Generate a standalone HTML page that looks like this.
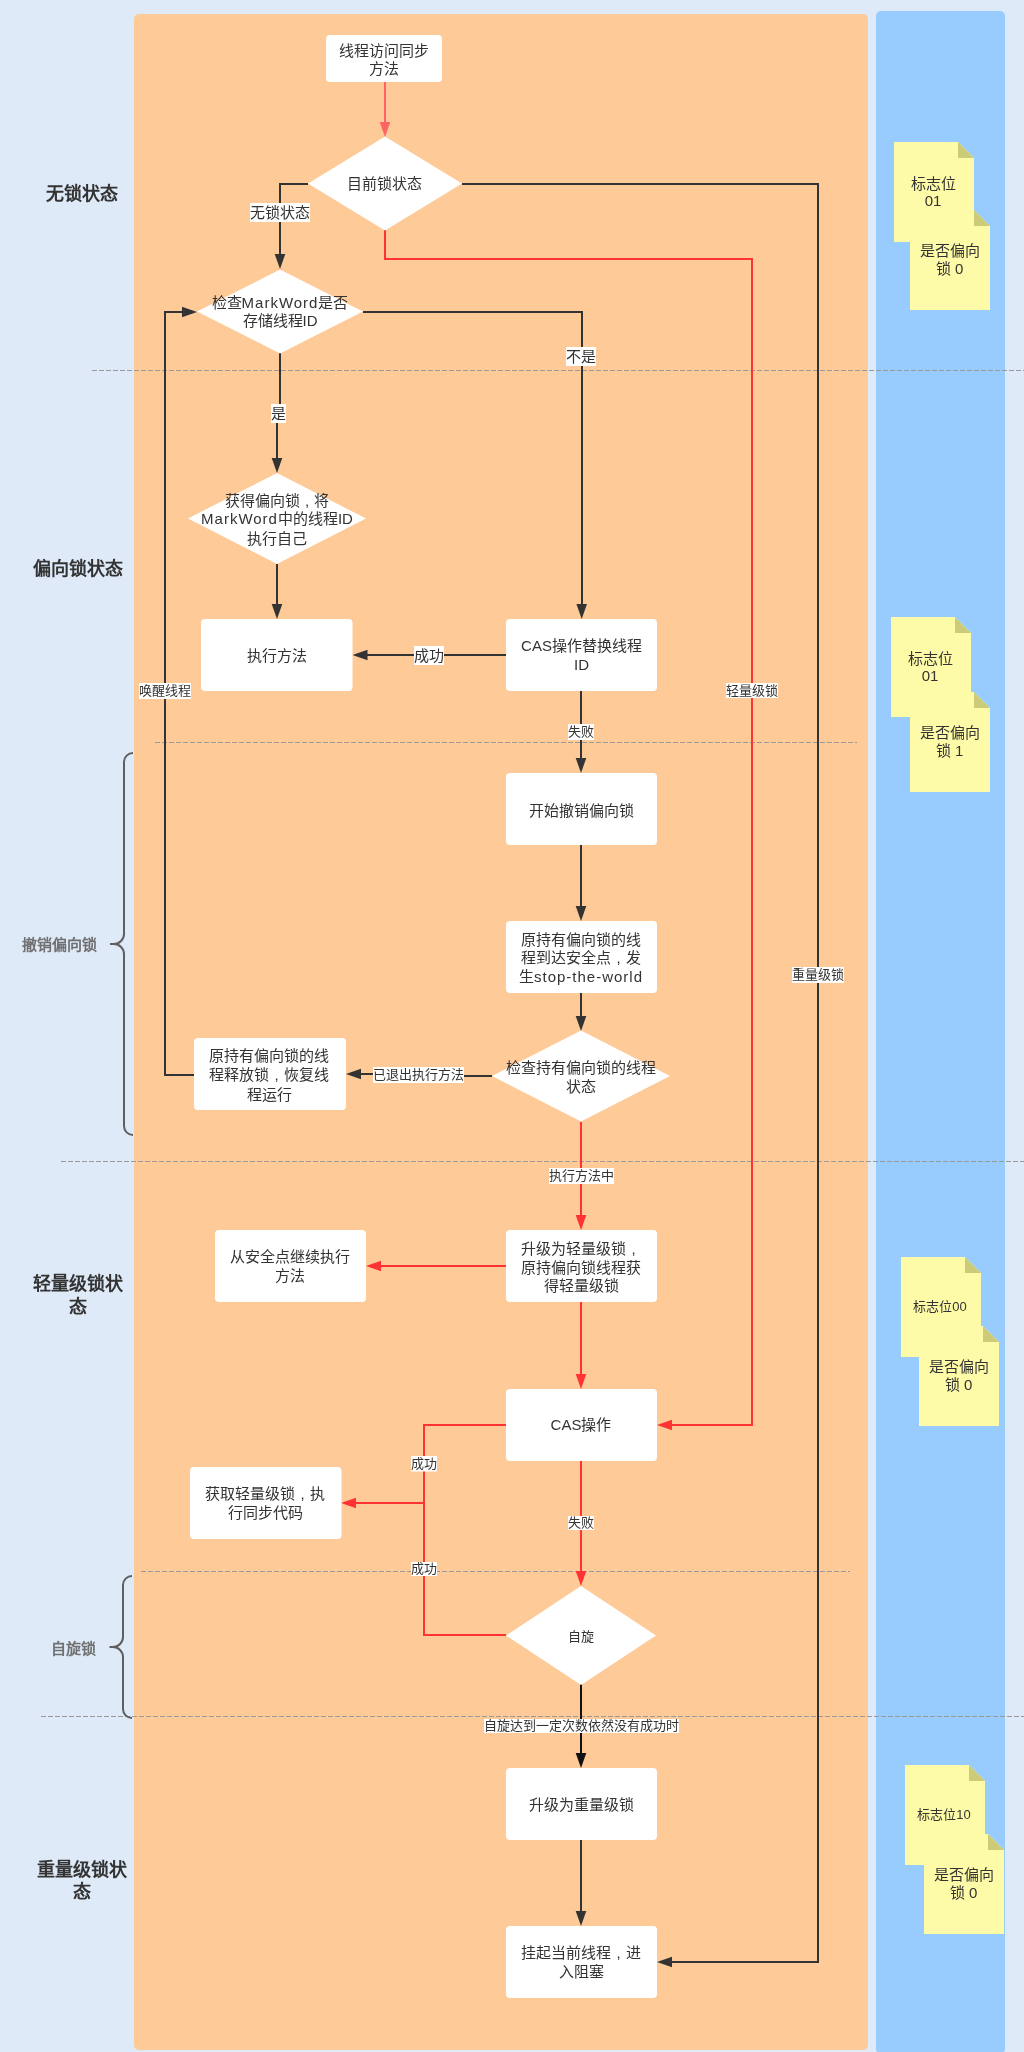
<!DOCTYPE html>
<html lang="zh-CN"><head><meta charset="utf-8"><title>lock</title>
<style>html,body{margin:0;padding:0;background:#dfeaf8;width:1024px;height:2052px;overflow:hidden}
svg{display:block;will-change:transform;font-family:"Liberation Sans",sans-serif}</style></head>
<body><svg width="1024" height="2052" viewBox="0 0 1024 2052">
<rect x="134" y="14" width="734" height="2036" rx="5" fill="#fdca98"/>
<rect x="876" y="11" width="129" height="2043" rx="5" fill="#99ccfe"/>
<line x1="92" y1="370.5" x2="1024" y2="370.5" stroke="#999999" stroke-width="1" stroke-dasharray="5,2"/>
<line x1="155" y1="742.5" x2="857" y2="742.5" stroke="#999999" stroke-width="1" stroke-dasharray="5,2"/>
<line x1="61" y1="1161.5" x2="1024" y2="1161.5" stroke="#999999" stroke-width="1" stroke-dasharray="5,2"/>
<line x1="141" y1="1571.5" x2="850" y2="1571.5" stroke="#999999" stroke-width="1" stroke-dasharray="5,2"/>
<line x1="41" y1="1716.5" x2="1024" y2="1716.5" stroke="#999999" stroke-width="1" stroke-dasharray="5,2"/>
<path d="M133,753 A9,9 0 0 0 124,762 L124,934 A10,10 0 0 1 114,944 L110,944 M110,944 L114,944 A10,10 0 0 1 124,954 L124,1126 A9,9 0 0 0 133,1135" fill="none" stroke="#5f5f5f" stroke-width="2"/>
<path d="M132,1576 A9,9 0 0 0 123,1585 L123,1637 A10,10 0 0 1 113,1647 L109.5,1647 M109.5,1647 L113,1647 A10,10 0 0 1 123,1657 L123,1709 A9,9 0 0 0 132,1718" fill="none" stroke="#5f5f5f" stroke-width="2"/>
<text x="81.5" y="199.9" font-size="18" fill="#333333" font-weight="bold" text-anchor="middle">无锁状态</text>
<text x="77.5" y="574.9" font-size="18" fill="#333333" font-weight="bold" text-anchor="middle">偏向锁状态</text>
<text x="77.6" y="1290.3" font-size="18" fill="#333333" font-weight="bold" text-anchor="middle">轻量级锁状</text>
<text x="77.6" y="1313.2" font-size="18" fill="#333333" font-weight="bold" text-anchor="middle">态</text>
<text x="81.7" y="1875.6" font-size="18" fill="#333333" font-weight="bold" text-anchor="middle">重量级锁状</text>
<text x="81.7" y="1898.3" font-size="18" fill="#333333" font-weight="bold" text-anchor="middle">态</text>
<text x="59" y="949.7" font-size="15" fill="#707070" font-weight="bold" text-anchor="middle">撤销偏向锁</text>
<text x="73" y="1653.7" font-size="15" fill="#707070" font-weight="bold" text-anchor="middle">自旋锁</text>
<polyline points="385,82 385,124" fill="none" stroke="#ff6464" stroke-width="2" stroke-linejoin="miter"/>
<polygon points="385,137 379.7,122 390.3,122" fill="#ff6464"/>
<polyline points="308,184 280,184 280,256" fill="none" stroke="#333333" stroke-width="2" stroke-linejoin="miter"/>
<polygon points="280,269 274.7,254 285.3,254" fill="#333333"/>
<polyline points="462,184 818,184 818,1962 670,1962" fill="none" stroke="#333333" stroke-width="2" stroke-linejoin="miter"/>
<polygon points="657,1962 672,1956.7 672,1967.3" fill="#333333"/>
<polyline points="385,229 385,259 752,259 752,1425 670,1425" fill="none" stroke="#ff3333" stroke-width="2" stroke-linejoin="miter"/>
<polygon points="657,1425 672,1419.7 672,1430.3" fill="#ff3333"/>
<polyline points="363,312 582,312 582,606" fill="none" stroke="#333333" stroke-width="2" stroke-linejoin="miter"/>
<polygon points="581.7,619 576.4000000000001,604 587.0,604" fill="#333333"/>
<polyline points="280,353 280,413 277,413 277,460" fill="none" stroke="#333333" stroke-width="2" stroke-linejoin="miter"/>
<polygon points="277,473 271.7,458 282.3,458" fill="#333333"/>
<polyline points="277,564 277,606" fill="none" stroke="#333333" stroke-width="2" stroke-linejoin="miter"/>
<polygon points="277,619 271.7,604 282.3,604" fill="#333333"/>
<polyline points="506,655 366,655" fill="none" stroke="#333333" stroke-width="2" stroke-linejoin="miter"/>
<polygon points="352.5,655 367.5,649.7 367.5,660.3" fill="#333333"/>
<polyline points="581,691 581,760" fill="none" stroke="#333333" stroke-width="2" stroke-linejoin="miter"/>
<polygon points="581,773 575.7,758 586.3,758" fill="#333333"/>
<polyline points="581,845 581,908" fill="none" stroke="#333333" stroke-width="2" stroke-linejoin="miter"/>
<polygon points="581,921 575.7,906 586.3,906" fill="#333333"/>
<polyline points="581,993 581,1018" fill="none" stroke="#333333" stroke-width="2" stroke-linejoin="miter"/>
<polygon points="581,1031 575.7,1016 586.3,1016" fill="#333333"/>
<polyline points="492,1076 420,1076 420,1074 359,1074" fill="none" stroke="#333333" stroke-width="2" stroke-linejoin="miter"/>
<polygon points="346,1074 361,1068.7 361,1079.3" fill="#333333"/>
<polyline points="194,1075 165,1075 165,312 184,312" fill="none" stroke="#333333" stroke-width="2" stroke-linejoin="miter"/>
<polygon points="197,312 182,306.7 182,317.3" fill="#333333"/>
<polyline points="581,1122 581,1217" fill="none" stroke="#ff3333" stroke-width="2" stroke-linejoin="miter"/>
<polygon points="581,1230 575.7,1215 586.3,1215" fill="#ff3333"/>
<polyline points="506,1266 379,1266" fill="none" stroke="#ff3333" stroke-width="2" stroke-linejoin="miter"/>
<polygon points="366,1266 381,1260.7 381,1271.3" fill="#ff3333"/>
<polyline points="581,1302 581,1376" fill="none" stroke="#ff3333" stroke-width="2" stroke-linejoin="miter"/>
<polygon points="581,1389 575.7,1374 586.3,1374" fill="#ff3333"/>
<polyline points="506,1425 424,1425 424,1635 506,1635" fill="none" stroke="#ff3333" stroke-width="2" stroke-linejoin="miter"/>
<polyline points="424,1503 354,1503" fill="none" stroke="#ff3333" stroke-width="2" stroke-linejoin="miter"/>
<polygon points="341,1503 356,1497.7 356,1508.3" fill="#ff3333"/>
<polyline points="581,1461 581,1573" fill="none" stroke="#ff3333" stroke-width="2" stroke-linejoin="miter"/>
<polygon points="581,1586 575.7,1571 586.3,1571" fill="#ff3333"/>
<polyline points="581,1684 581,1755" fill="none" stroke="#111" stroke-width="2" stroke-linejoin="miter"/>
<polygon points="581,1768 575.7,1753 586.3,1753" fill="#111"/>
<polyline points="581,1840 581,1913" fill="none" stroke="#333333" stroke-width="2" stroke-linejoin="miter"/>
<polygon points="581,1926 575.7,1911 586.3,1911" fill="#333333"/>
<rect x="326" y="35" width="116" height="47" rx="4" fill="#fff"/>
<polygon points="385,136.5 462,183.5 385,230.5 308,183.5" fill="#fff"/>
<polygon points="280,269.5 363,311.5 280,353.5 197,311.5" fill="#fff"/>
<polygon points="277,473.0 366,518.5 277,564.0 188,518.5" fill="#fff"/>
<rect x="201" y="619" width="151.5" height="72" rx="4" fill="#fff"/>
<rect x="506" y="619" width="151" height="72" rx="4" fill="#fff"/>
<rect x="506" y="773" width="151" height="72" rx="4" fill="#fff"/>
<rect x="506" y="921" width="151" height="72" rx="4" fill="#fff"/>
<polygon points="581,1030.5 670,1076 581,1121.5 492,1076" fill="#fff"/>
<rect x="194" y="1038" width="152" height="72" rx="4" fill="#fff"/>
<rect x="215" y="1230" width="151" height="72" rx="4" fill="#fff"/>
<rect x="506" y="1230" width="151" height="72" rx="4" fill="#fff"/>
<rect x="506" y="1389" width="151" height="72" rx="4" fill="#fff"/>
<rect x="190" y="1467" width="151.5" height="72" rx="4" fill="#fff"/>
<polygon points="581,1586.0 656,1635.5 581,1685.0 506,1635.5" fill="#fff"/>
<rect x="506" y="1768" width="151" height="72" rx="4" fill="#fff"/>
<rect x="506" y="1926" width="151" height="72" rx="4" fill="#fff"/>
<text x="384" y="55.5" font-size="15" fill="#333333" font-weight="normal" text-anchor="middle">线程访问同步</text>
<text x="384" y="74.0" font-size="15" fill="#333333" font-weight="normal" text-anchor="middle">方法</text>
<text x="384" y="189.0" font-size="15" fill="#333333" font-weight="normal" text-anchor="middle">目前锁状态</text>
<text x="280" y="308.2" font-size="15" fill="#333333" font-weight="normal" text-anchor="middle">检查<tspan letter-spacing="1.0">MarkWord</tspan>是否</text>
<text x="280" y="326.2" font-size="15" fill="#333333" font-weight="normal" text-anchor="middle">存储线程ID</text>
<text x="277" y="506.2" font-size="15" fill="#333333" font-weight="normal" text-anchor="middle">获得偏向锁<tspan dx="5.4">,</tspan><tspan dx="5.4">将</tspan></text>
<text x="277" y="524.2" font-size="15" fill="#333333" font-weight="normal" text-anchor="middle"><tspan letter-spacing="1.0">MarkWord</tspan>中的线程ID</text>
<text x="277" y="543.6" font-size="15" fill="#333333" font-weight="normal" text-anchor="middle">执行自己</text>
<text x="277" y="660.9" font-size="15" fill="#333333" font-weight="normal" text-anchor="middle">执行方法</text>
<text x="581.5" y="651.2" font-size="15" fill="#333333" font-weight="normal" text-anchor="middle">CAS操作替换线程</text>
<text x="581.5" y="670.2" font-size="15" fill="#333333" font-weight="normal" text-anchor="middle">ID</text>
<text x="581" y="815.7" font-size="15" fill="#333333" font-weight="normal" text-anchor="middle">开始撤销偏向锁</text>
<text x="581" y="944.7" font-size="15" fill="#333333" font-weight="normal" text-anchor="middle">原持有偏向锁的线</text>
<text x="581" y="963.2" font-size="15" fill="#333333" font-weight="normal" text-anchor="middle">程到达安全点<tspan dx="5.4">,</tspan><tspan dx="5.4">发</tspan></text>
<text x="581" y="981.8" font-size="15" fill="#333333" font-weight="normal" text-anchor="middle">生<tspan letter-spacing="1.0">stop-the-world</tspan></text>
<text x="581" y="1073.2" font-size="15" fill="#333333" font-weight="normal" text-anchor="middle">检查持有偏向锁的线程</text>
<text x="581" y="1092.2" font-size="15" fill="#333333" font-weight="normal" text-anchor="middle">状态</text>
<text x="269" y="1060.8" font-size="15" fill="#333333" font-weight="normal" text-anchor="middle">原持有偏向锁的线</text>
<text x="269" y="1079.9" font-size="15" fill="#333333" font-weight="normal" text-anchor="middle">程释放锁<tspan dx="5.4">,</tspan><tspan dx="5.4">恢</tspan>复线</text>
<text x="269" y="1099.5" font-size="15" fill="#333333" font-weight="normal" text-anchor="middle">程运行</text>
<text x="290" y="1262.2" font-size="15" fill="#333333" font-weight="normal" text-anchor="middle">从安全点继续执行</text>
<text x="290" y="1281.2" font-size="15" fill="#333333" font-weight="normal" text-anchor="middle">方法</text>
<text x="581" y="1253.5" font-size="15" fill="#333333" font-weight="normal" text-anchor="middle">升级为轻量级锁<tspan dx="5.4">,</tspan><tspan dx="5.4">&#8203;</tspan></text>
<text x="581" y="1272.9" font-size="15" fill="#333333" font-weight="normal" text-anchor="middle">原持偏向锁线程获</text>
<text x="581" y="1291.2" font-size="15" fill="#333333" font-weight="normal" text-anchor="middle">得轻量级锁</text>
<text x="581" y="1430.2" font-size="15" fill="#333333" font-weight="normal" text-anchor="middle">CAS操作</text>
<text x="265" y="1499.2" font-size="15" fill="#333333" font-weight="normal" text-anchor="middle">获取轻量级锁<tspan dx="5.4">,</tspan><tspan dx="5.4">执</tspan></text>
<text x="265" y="1518.2" font-size="15" fill="#333333" font-weight="normal" text-anchor="middle">行同步代码</text>
<text x="581" y="1641.1" font-size="13" fill="#333333" font-weight="normal" text-anchor="middle">自旋</text>
<text x="581" y="1810.2" font-size="15" fill="#333333" font-weight="normal" text-anchor="middle">升级为重量级锁</text>
<text x="581" y="1957.9" font-size="15" fill="#333333" font-weight="normal" text-anchor="middle">挂起当前线程<tspan dx="5.4">,</tspan><tspan dx="5.4">进</tspan></text>
<text x="581" y="1977.2" font-size="15" fill="#333333" font-weight="normal" text-anchor="middle">入阻塞</text>
<rect x="250" y="203" width="60" height="19" fill="#fff"/>
<text x="280.0" y="217.7" font-size="15" fill="#333333" font-weight="normal" text-anchor="middle">无锁状态</text>
<rect x="566" y="347" width="30" height="19" fill="#fff"/>
<text x="581.0" y="361.7" font-size="15" fill="#333333" font-weight="normal" text-anchor="middle">不是</text>
<rect x="271" y="404" width="15" height="19" fill="#fff"/>
<text x="278.5" y="418.7" font-size="15" fill="#333333" font-weight="normal" text-anchor="middle">是</text>
<rect x="414" y="646" width="30" height="19" fill="#fff"/>
<text x="429.0" y="660.7" font-size="15" fill="#333333" font-weight="normal" text-anchor="middle">成功</text>
<rect x="139" y="683" width="52" height="16" fill="#fff"/>
<text x="165.0" y="695.4" font-size="13" fill="#333333" font-weight="normal" text-anchor="middle">唤醒线程</text>
<rect x="568" y="724" width="26" height="16" fill="#fff"/>
<text x="581.0" y="736.4" font-size="13" fill="#333333" font-weight="normal" text-anchor="middle">失败</text>
<rect x="726" y="683" width="52" height="15" fill="#fff"/>
<text x="752.0" y="694.9" font-size="13" fill="#333333" font-weight="normal" text-anchor="middle">轻量级锁</text>
<rect x="792" y="967" width="52" height="16" fill="#fff"/>
<text x="818.0" y="979.4" font-size="13" fill="#333333" font-weight="normal" text-anchor="middle">重量级锁</text>
<rect x="373" y="1067" width="91" height="16" fill="#fff"/>
<text x="418.5" y="1079.4" font-size="13" fill="#333333" font-weight="normal" text-anchor="middle">已退出执行方法</text>
<rect x="549" y="1168" width="65" height="16" fill="#fff"/>
<text x="581.5" y="1180.4" font-size="13" fill="#333333" font-weight="normal" text-anchor="middle">执行方法中</text>
<rect x="411" y="1456" width="26" height="15.5" fill="#fff"/>
<text x="424.0" y="1468.2" font-size="13" fill="#333333" font-weight="normal" text-anchor="middle">成功</text>
<rect x="411" y="1562" width="26" height="14" fill="#fff"/>
<text x="424.0" y="1573.4" font-size="13" fill="#333333" font-weight="normal" text-anchor="middle">成功</text>
<rect x="568" y="1516" width="26" height="14" fill="#fff"/>
<text x="581.0" y="1527.4" font-size="13" fill="#333333" font-weight="normal" text-anchor="middle">失败</text>
<rect x="484" y="1719" width="195" height="14" fill="#fff"/>
<text x="581.5" y="1730.4" font-size="13" fill="#333333" font-weight="normal" text-anchor="middle">自旋达到一定次数依然没有成功时</text>
<polygon points="894,142 958,142 974,158 974,242 894,242" fill="#fefba8"/>
<polygon points="958,142 958,158 974,158" fill="#cccb78"/>
<polygon points="910,210 974,210 990,226 990,310 910,310" fill="#fefba8"/>
<polygon points="974,210 974,226 990,226" fill="#cccb78"/>
<text x="933" y="188.5" font-size="15" fill="#333333" font-weight="normal" text-anchor="middle">标志位</text>
<text x="933" y="205.9" font-size="15" fill="#333333" font-weight="normal" text-anchor="middle">01</text>
<text x="949.6" y="255.7" font-size="15" fill="#333333" font-weight="normal" text-anchor="middle">是否偏向</text>
<text x="949.6" y="273.8" font-size="15" fill="#333333" font-weight="normal" text-anchor="middle">锁 0</text>
<polygon points="891,617 955,617 971,633 971,717 891,717" fill="#fefba8"/>
<polygon points="955,617 955,633 971,633" fill="#cccb78"/>
<polygon points="910,692 974,692 990,708 990,792 910,792" fill="#fefba8"/>
<polygon points="974,692 974,708 990,708" fill="#cccb78"/>
<text x="930" y="663.5" font-size="15" fill="#333333" font-weight="normal" text-anchor="middle">标志位</text>
<text x="930" y="680.9" font-size="15" fill="#333333" font-weight="normal" text-anchor="middle">01</text>
<text x="949.6" y="737.7" font-size="15" fill="#333333" font-weight="normal" text-anchor="middle">是否偏向</text>
<text x="949.6" y="755.8" font-size="15" fill="#333333" font-weight="normal" text-anchor="middle">锁 1</text>
<polygon points="901,1257 965,1257 981,1273 981,1357 901,1357" fill="#fefba8"/>
<polygon points="965,1257 965,1273 981,1273" fill="#cccb78"/>
<polygon points="919,1326 983,1326 999,1342 999,1426 919,1426" fill="#fefba8"/>
<polygon points="983,1326 983,1342 999,1342" fill="#cccb78"/>
<text x="940" y="1311.4" font-size="13" fill="#333333" font-weight="normal" text-anchor="middle">标志位00</text>
<text x="958.6" y="1371.7" font-size="15" fill="#333333" font-weight="normal" text-anchor="middle">是否偏向</text>
<text x="958.6" y="1390.2" font-size="15" fill="#333333" font-weight="normal" text-anchor="middle">锁 0</text>
<polygon points="905,1765 969,1765 985,1781 985,1865 905,1865" fill="#fefba8"/>
<polygon points="969,1765 969,1781 985,1781" fill="#cccb78"/>
<polygon points="924,1834 988,1834 1004,1850 1004,1934 924,1934" fill="#fefba8"/>
<polygon points="988,1834 988,1850 1004,1850" fill="#cccb78"/>
<text x="944" y="1819.4" font-size="13" fill="#333333" font-weight="normal" text-anchor="middle">标志位10</text>
<text x="963.6" y="1879.7" font-size="15" fill="#333333" font-weight="normal" text-anchor="middle">是否偏向</text>
<text x="963.6" y="1898.2" font-size="15" fill="#333333" font-weight="normal" text-anchor="middle">锁 0</text>
</svg></body></html>
